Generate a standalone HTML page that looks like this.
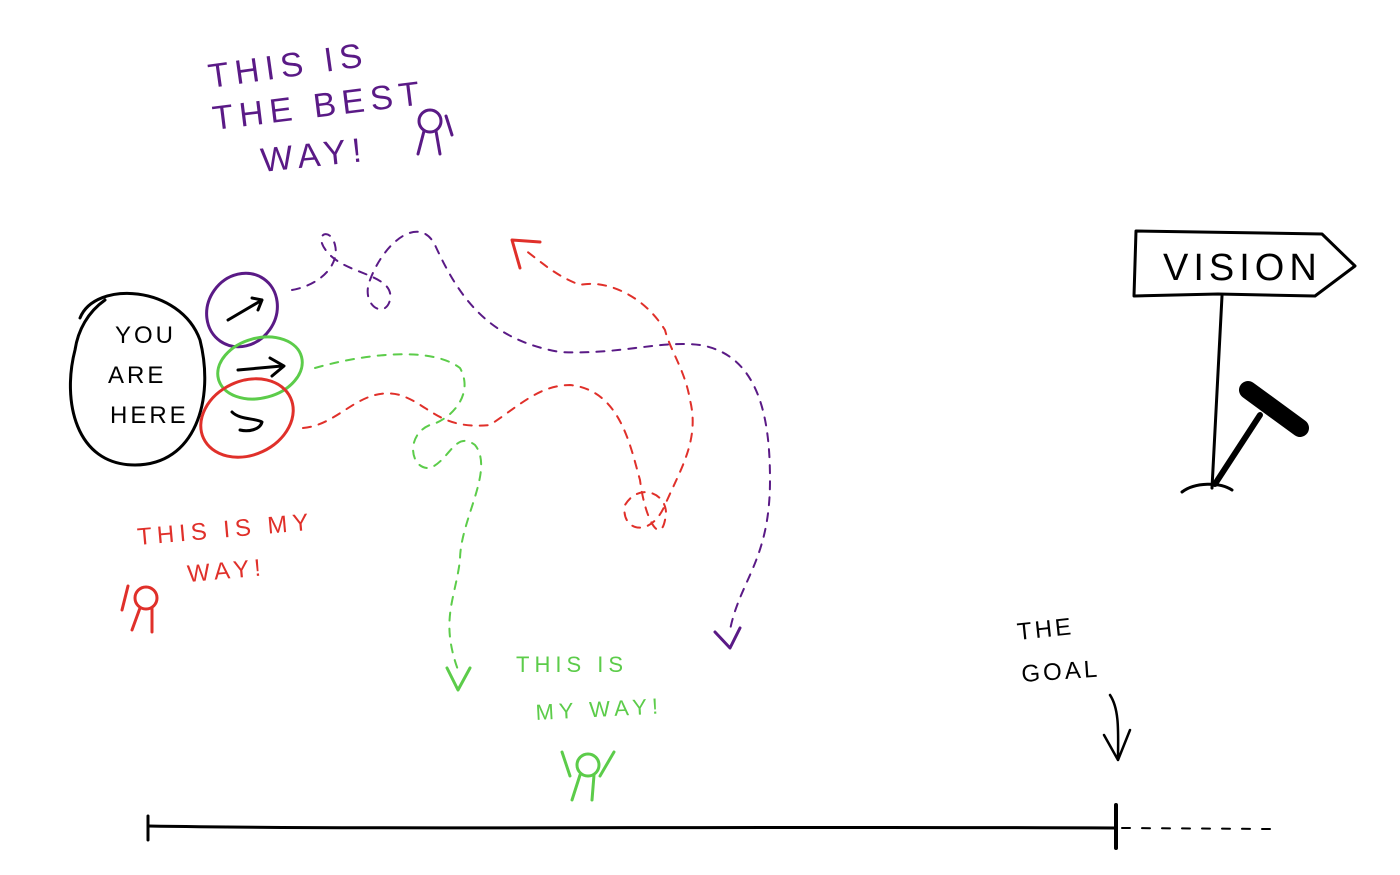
<!DOCTYPE html>
<html><head><meta charset="utf-8"><style>
html,body{margin:0;padding:0;background:#fff;}
svg{display:block;}
text{font-family:"Liberation Sans",sans-serif;font-weight:normal;}
</style></head><body>
<svg width="1400" height="875" viewBox="0 0 1400 875" xmlns="http://www.w3.org/2000/svg" fill="none" stroke-linecap="round" stroke-linejoin="round">
<g fill="#5a1a86" font-size="34" letter-spacing="6">
<text x="210" y="88" transform="rotate(-8 210 88)">THIS  IS</text>
<text x="214" y="130" transform="rotate(-7 214 130)">THE BEST</text>
<text x="262" y="172" transform="rotate(-6 262 172)">WAY!</text>
</g>
<g stroke="#5a1a86" stroke-width="3">
<circle cx="430" cy="121" r="11"/><path d="M424 131 L418 154 M436 131 L440 154 M446 116 L452 135"/>
</g>
<g>
<path d="M80 318 C95 280 180 285 200 340 C215 400 195 465 135 465 C75 465 62 400 75 350 C78 330 88 312 105 300" stroke="#000" stroke-width="3"/>
<g fill="#000" font-size="24" letter-spacing="3">
<text x="115" y="343">YOU</text><text x="108" y="383">ARE</text><text x="110" y="423">HERE</text>
</g>
</g>
<g stroke-width="3">
<ellipse cx="242" cy="310" rx="34" ry="38" transform="rotate(35 242 310)" stroke="#5a1a86"/>
<path d="M228 320 L262 300 M252 298 L262 300 L258 310" stroke="#000"/>
<ellipse cx="260" cy="368" rx="43" ry="30" transform="rotate(-15 260 368)" stroke="#5ccc4a"/>
<path d="M238 370 L282 366 M270 358 L284 366 L272 376" stroke="#000"/>
<ellipse cx="247" cy="418" rx="48" ry="37" transform="rotate(-25 247 418)" stroke="#e0302a"/>
<path d="M232 412 C240 420 255 418 262 422 C260 430 248 432 240 430" stroke="#000"/>
</g>
<g stroke-width="2" stroke-dasharray="8 8">
<path stroke="#5a1a86" d="M292 290 C320 285 340 265 335 245 C330 225 310 235 330 255 C350 275 395 275 390 300 C385 320 360 305 370 280 C385 240 420 215 435 245 C460 300 490 340 560 352 C620 355 660 340 700 345 C760 355 770 420 770 480 C770 560 740 580 730 630"/>
<path stroke="#5a1a86" stroke-width="3" stroke-dasharray="none" d="M715 632 L730 648 L740 628"/>
<path stroke="#5ccc4a" d="M315 368 C360 355 430 345 460 368 C475 395 450 420 430 425 C405 435 410 470 430 468 C450 460 455 430 475 445 C495 470 460 520 460 560 C455 600 440 620 458 670"/>
<path stroke="#5ccc4a" stroke-width="3" stroke-dasharray="none" d="M447 668 L458 690 L470 668"/>
<path stroke="#e0302a" d="M303 428 C340 425 360 385 400 395 C430 405 440 430 490 425 C520 405 540 385 570 385 C620 390 630 445 640 480 C645 520 660 545 665 520 C672 495 640 480 625 505 C620 530 650 540 665 505 C680 470 700 440 690 400 C685 370 670 350 665 330 C640 290 600 280 580 285 C555 275 545 265 525 250"/>
<path stroke="#e0302a" stroke-width="3" stroke-dasharray="none" d="M520 268 L512 240 L540 242"/>
</g>
<g fill="#e0302a" font-size="24" letter-spacing="5">
<text x="138" y="545" transform="rotate(-5 138 545)">THIS  IS  MY</text>
<text x="188" y="582" transform="rotate(-5 188 582)">WAY!</text>
</g>
<g stroke="#e0302a" stroke-width="3">
<circle cx="146" cy="598" r="11"/><path d="M140 608 L132 630 M152 608 L152 632 M128 586 L122 610"/>
</g>
<g fill="#5ccc4a" font-size="22" letter-spacing="5">
<text x="516" y="672">THIS  IS</text>
<text x="536" y="720" transform="rotate(-3 536 720)">MY  WAY!</text>
</g>
<g stroke="#5ccc4a" stroke-width="3">
<circle cx="588" cy="765" r="11"/><path d="M580 775 L572 800 M594 775 L592 800 M562 752 L570 776 M614 752 L600 776"/>
</g>
<g stroke="#000" stroke-width="3">
<path d="M1136 231 L1322 234 L1355 266 L1315 296 L1218 294 L1134 296 Z"/>
<text x="1163" y="280" fill="#000" stroke="none" font-size="38" letter-spacing="5">VISION</text>
<path d="M1222 296 L1212 488"/>
<path d="M1182 492 C1195 482 1220 482 1232 490"/>
<path d="M1248 390 L1300 428" stroke-width="18"/>
<path d="M1260 415 L1215 484" stroke-width="6"/>
</g>
<g>
<g fill="#000" font-size="24" letter-spacing="3">
<text x="1018" y="640" transform="rotate(-6 1018 640)">THE</text>
<text x="1022" y="682" transform="rotate(-4 1022 682)">GOAL</text>
</g>
<path d="M1110 695 C1120 710 1118 735 1118 760 M1104 735 L1118 760 L1130 730" stroke="#000" stroke-width="2.5"/>
</g>
<g stroke="#000">
<path d="M148 826 C400 830 700 826 1116 828" stroke-width="3"/>
<path d="M148 816 L148 840" stroke-width="3"/>
<path d="M1116 805 L1116 848" stroke-width="4"/>
<path d="M1122 828 L1270 829" stroke-width="2" stroke-dasharray="8 12"/>
</g>
</svg>
</body></html>
